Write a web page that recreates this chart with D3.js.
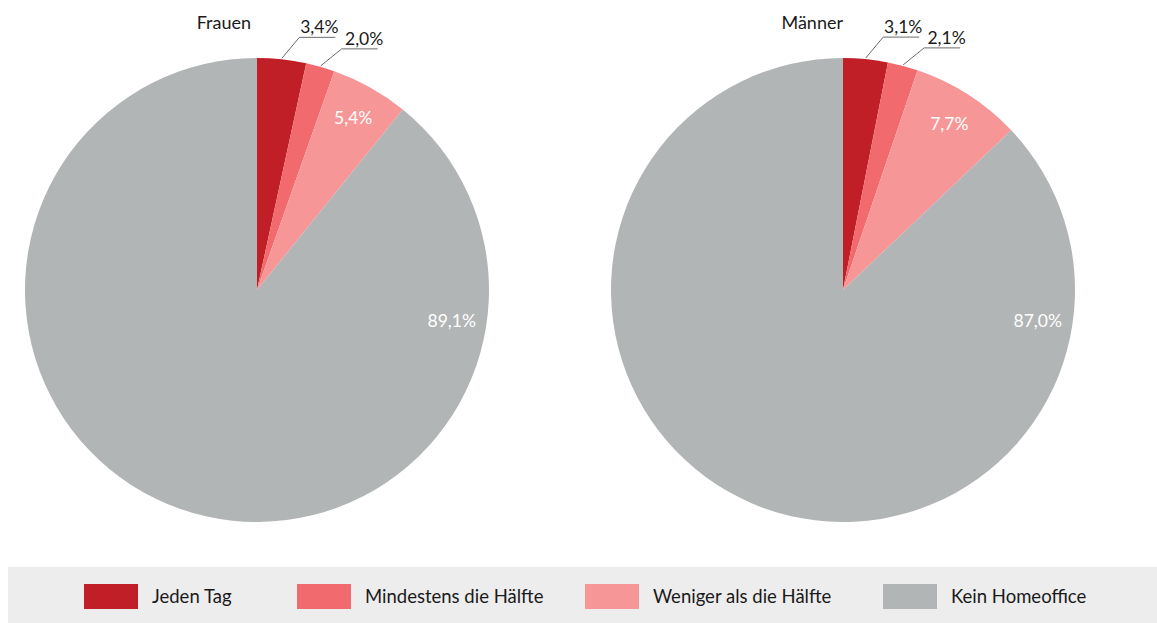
<!DOCTYPE html>
<html>
<head>
<meta charset="UTF-8">
<script src="https://d3js.org/d3.v7.min.js"></script>
<style>
  body { margin: 0; background: #fff; }
  text { font-family: Lato, "Noto Sans", sans-serif; }
</style>
</head>
<body>
<div id="chart"></div>
<script>
// categories and values (percent)
var categories = ["Jeden Tag", "Mindestens die Hälfte", "Weniger als die Hälfte", "Kein Homeoffice"];
var groups = ["Frauen", "Männer"];
var frauen = [3.4, 2.0, 5.4, 89.1];
var maenner = [3.1, 2.1, 7.7, 87.0];
var colors = ["#c01f27", "#f16a6d", "#f69696", "#b2b5b5"];

var width = 1157, height = 623;
var radius = 232;

var svg = d3.select("#chart").append("svg")
    .attr("width", width)
    .attr("height", height);

var fmt = function(v) { return v.toFixed(1).replace(".", ",") + "%"; };

var pie = d3.pie().sort(null).value(function(d) { return d; });
var arc = d3.arc().innerRadius(0).outerRadius(radius);

// x position of each pie centre
var xPie = d3.scalePoint().domain(groups).range([257, 843]);
var cy = 290;

// leader line shape for the two small slices: diagonal offset, text offset
var leader = [
    {dx: 17.5, dy: -21, tx: 20},
    {dx: 21, dy: -17, tx: 22.5}
];

function drawPie(name, values) {
    var g = svg.append("g")
        .attr("transform", "translate(" + xPie(name) + "," + cy + ")");
    var arcs = pie(values);

    g.selectAll("path.slice")
        .data(arcs)
        .enter().append("path")
        .attr("class", "slice")
        .attr("d", arc)
        .attr("fill", function(d, i) { return colors[i]; });

    // title
    g.append("text")
        .attr("x", name === "Frauen" ? -6 : 0)
        .attr("y", -261)
        .attr("text-anchor", "end")
        .attr("font-size", 18)
        .attr("fill", "#1a1a1a")
        .text(name);

    arcs.forEach(function(d, i) {
        var mid = (d.startAngle + d.endAngle) / 2;
        if (i < 2) {
            // small slices: leader line outside
            var L = leader[i];
            var x0 = Math.sin(mid) * (radius + 1), y0 = -Math.cos(mid) * (radius + 1);
            var x1 = x0 + L.dx, y1 = y0 + L.dy;
            var x2 = x1 + 36;
            g.append("polyline")
                .attr("points", [[x0, y0], [x1, y1], [x2, y1]].map(function(p) { return p.join(","); }).join(" "))
                .attr("fill", "none")
                .attr("stroke", "#6b6b6b")
                .attr("stroke-width", 1);
            g.append("text")
                .attr("x", x1 + L.tx)
                .attr("y", y1 - 4)
                .attr("text-anchor", "middle")
                .attr("font-size", 17.5)
                .attr("fill", "#1a1a1a")
                .text(fmt(d.data));
        } else {
            // large slices: label inside
            var la = i === 3 ? Math.PI * 0.55 : mid;
            var lr = radius * 0.85;
            g.append("text")
                .attr("x", Math.sin(la) * lr)
                .attr("y", -Math.cos(la) * lr)
                .attr("dy", "0.35em")
                .attr("text-anchor", "middle")
                .attr("font-size", 17.5)
                .attr("fill", "#fff")
                .text(fmt(d.data));
        }
    });
}

drawPie("Frauen", frauen);
drawPie("Männer", maenner);

// legend
svg.append("rect")
    .attr("x", 8).attr("y", 567)
    .attr("width", width - 8).attr("height", 56)
    .attr("fill", "#ededed");

var legendX = [84, 297, 585, 883];
var leg = svg.selectAll("g.leg")
    .data(categories)
    .enter().append("g")
    .attr("class", "leg")
    .attr("transform", function(d, i) { return "translate(" + legendX[i] + ",584)"; });

leg.append("rect")
    .attr("width", 54).attr("height", 25)
    .attr("fill", function(d, i) { return colors[i]; });

leg.append("text")
    .attr("x", 68).attr("y", 12.5)
    .attr("dy", "0.35em")
    .attr("font-size", 18.5)
    .attr("fill", "#1a1a1a")
    .text(function(d) { return d; });
</script>
</body>
</html>
